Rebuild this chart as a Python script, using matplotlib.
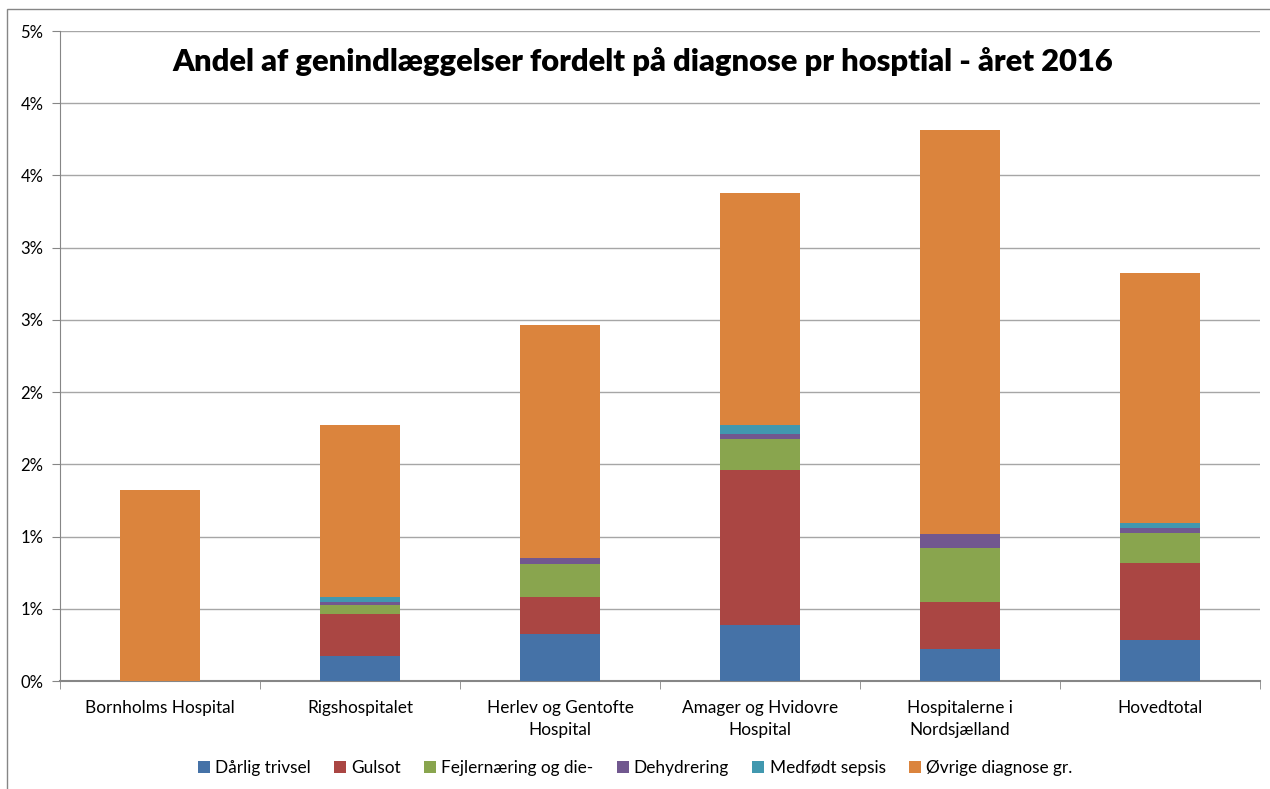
import matplotlib
matplotlib.use("Agg")
import matplotlib.pyplot as plt
from matplotlib.patches import Rectangle
from matplotlib.ticker import FuncFormatter
import numpy as np

plt.rcParams['font.family'] = ['Lato', 'DejaVu Sans']

hospitals = ["Bornholms Hospital", "Rigshospitalet", "Herlev og Gentofte\nHospital",
             "Amager og Hvidovre\nHospital", "Hospitalerne i\nNordsjælland", "Hovedtotal"]

# values in percent
darlig_trivsel = [0.0, 0.173, 0.328, 0.386, 0.222, 0.286]
gulsot = [0.0, 0.293, 0.254, 1.077, 0.325, 0.529]
fejlernaering = [0.0, 0.058, 0.231, 0.213, 0.374, 0.208]
dehydrering = [0.0, 0.021, 0.039, 0.032, 0.099, 0.039]
medfodt_sepsis = [0.0, 0.039, 0.0, 0.063, 0.0, 0.030]
ovrige = [1.323, 1.189, 1.613, 1.609, 2.796, 1.733]

series = [darlig_trivsel, gulsot, fejlernaering, dehydrering, medfodt_sepsis, ovrige]
names = ["Dårlig trivsel", "Gulsot", "Fejlernæring og die-", "Dehydrering",
         "Medfødt sepsis", "Øvrige diagnose gr."]
colors = ["#4572A7", "#AA4643", "#89A54E", "#71588F", "#4198AF", "#DB843D"]

fig = plt.figure(figsize=(12.7, 7.89), dpi=100)
ax = fig.add_axes([60/1270, 1-681/789, 1200/1270, 650/789])

x = np.arange(len(hospitals))
bottom = np.zeros(len(hospitals))
for vals, name, c in zip(series, names, colors):
	ax.bar(x, vals, bottom=bottom, width=0.4, color=c, label=name, zorder=3)
	bottom += np.array(vals)

ax.set_xlim(-0.5, len(hospitals) - 0.5)
ax.set_ylim(0, 4.5)
ax.set_yticks(np.arange(0, 4.51, 0.5))
ax.yaxis.set_major_formatter(FuncFormatter(lambda v, p: f"{int(np.floor(v + 0.5))}%"))
ax.grid(axis='y', color='#A6A6A6', linewidth=1, zorder=0)

ax.set_xticks(x)
ax.set_xticklabels(hospitals, fontsize=12.4, linespacing=1.45)
ax.set_xticks(np.arange(-0.5, len(hospitals), 1), minor=True)
ax.tick_params(axis='x', which='major', length=0, pad=14)
ax.tick_params(axis='x', which='minor', length=6, color='#868686', direction='out')
ax.tick_params(axis='y', length=6, color='#868686', labelsize=12, pad=6)

for side in ['top', 'right']:
	ax.spines[side].set_visible(False)
ax.spines['left'].set_color('#868686')
ax.spines['bottom'].set_color('#868686')
ax.spines['bottom'].set_linewidth(1.5)

ax.text(0.486, 0.975, "Andel af genindlæggelser fordelt på diagnose pr hosptial - året 2016",
	transform=ax.transAxes, ha='center', va='top', fontsize=22.2, fontweight='heavy')

fig.legend(loc='center', bbox_to_anchor=(0.5, 1-768/789), ncol=6, frameon=False,
	fontsize=12.4, handlelength=0.7, handleheight=0.7, handletextpad=0.3, columnspacing=1.35)

fig.patches.append(Rectangle((7/1270, -0.01), 1.02, 1-9/789 + 0.01, transform=fig.transFigure,
	fill=False, edgecolor='#868686', linewidth=1))

fig.savefig("out.png", dpi=100)
